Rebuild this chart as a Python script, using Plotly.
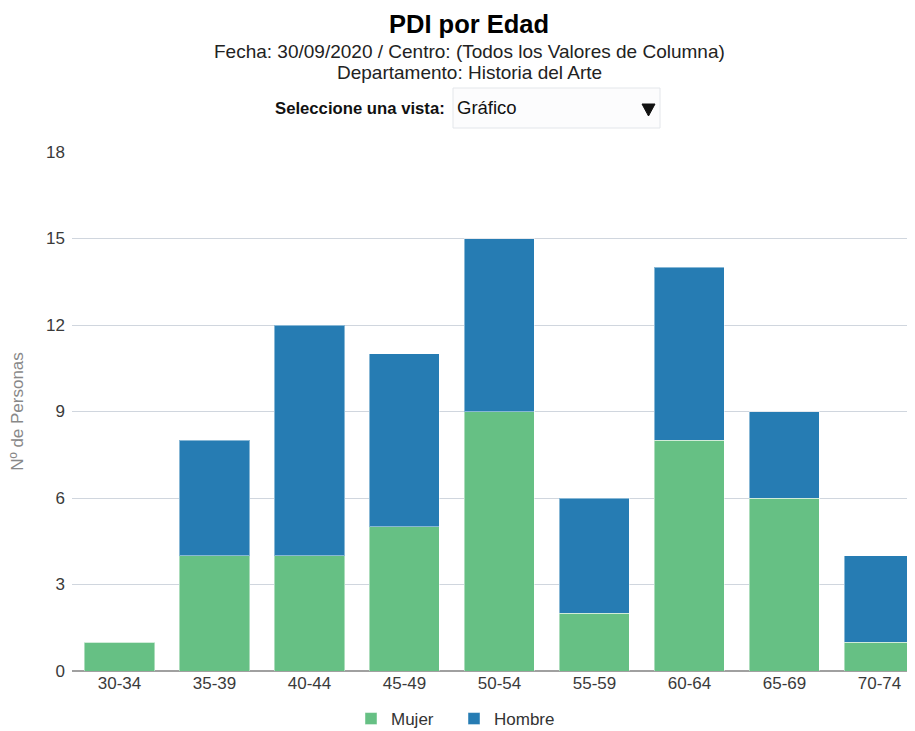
import plotly.graph_objects as go

categories = ["30-34", "35-39", "40-44", "45-49", "50-54", "55-59", "60-64", "65-69", "70-74"]
mujer = [1, 4, 4, 5, 9, 2, 8, 6, 1]
hombre = [0, 4, 8, 6, 6, 4, 6, 3, 3]
y_ticks = [0, 3, 6, 9, 12, 15, 18]

GREEN = "#66c084"
BLUE = "#267cb3"
FONT = "Liberation Sans, Arial, sans-serif"

# page has an 8px body margin; figure sized so it fits the 915x731 window
W, H = 907, 723
L, R, T, B = 64, 0, 144, 60
PH = H - T - B          # 519
PW = W - L - R          # 843
PLOT_LEFT, PLOT_BOTTOM = 72, 671   # page coords


def py(page_y):
    return (PLOT_BOTTOM - page_y) / PH


def px(page_x):
    return (page_x - PLOT_LEFT) / PW


edge = dict(color="rgba(255,255,255,0.45)", width=1)
fig = go.Figure()
fig.add_trace(go.Bar(x=categories, y=mujer, name="Mujer", marker=dict(color=GREEN, line=edge)))
fig.add_trace(go.Bar(x=categories, y=hombre, name="Hombre", marker=dict(color=BLUE, line=edge)))

fig.update_layout(
    barmode="stack",
    bargap=0.263,
    width=W, height=H,
    margin=dict(l=L, r=R, t=T, b=B, pad=0),
    paper_bgcolor="white", plot_bgcolor="white",
    font=dict(family=FONT, color="#333333"),
    showlegend=True,
    legend=dict(orientation="h", xref="paper", x=px(351), xanchor="left",
                yref="container", y=1 - (719 - 8) / H, yanchor="middle",
                font=dict(size=17, color="#333333"), traceorder="normal",
                entrywidthmode="pixels", entrywidth=58, itemwidth=30,
                bgcolor="rgba(0,0,0,0)"),
    xaxis=dict(range=[-0.5, 8.374], showgrid=False, showline=False, ticks="",
               tickfont=dict(size=17, color="#3a3a3a"), fixedrange=True),
    yaxis=dict(range=[0, 18], tickvals=y_ticks, showgrid=True, gridcolor="#d0d6de", gridwidth=1,
               zeroline=True, zerolinecolor="#a0a0a0", zerolinewidth=2,
               tickfont=dict(size=17, color="#3a3a3a"), ticklabelstandoff=6,
               title=dict(text="Nº de Personas", font=dict(size=17, color="#888888"), standoff=20)),
)

annos = [
    dict(text="<b>PDI por Edad</b>", x=px(469), y=py(24),
         font=dict(size=25.5, color="#000000", family=FONT), xanchor="center"),
    dict(text="Fecha: 30/09/2020 / Centro: (Todos los Valores de Columna)", x=px(469.5), y=py(51),
         font=dict(size=19, color="#222222", family=FONT), xanchor="center"),
    dict(text="Departamento: Historia del Arte", x=px(469.5), y=py(73),
         font=dict(size=19, color="#222222", family=FONT), xanchor="center"),
    dict(text="<b>Seleccione una vista:</b>", x=px(447), y=py(109),
         font=dict(size=16.7, color="#111111", family=FONT), xanchor="right"),
    dict(text="Gráfico", x=px(455), y=py(108),
         font=dict(size=18.5, color="#111111", family=FONT), xanchor="left"),
]
for a in annos:
    a.update(xref="paper", yref="paper", showarrow=False, yanchor="middle")
fig.update_layout(annotations=annos)

fig.add_shape(type="rect", xref="paper", yref="paper", x0=px(453), x1=px(660), y0=py(128), y1=py(88),
              line=dict(color="#e3e6ea", width=1), fillcolor="#fcfcfd", layer="below")
tri = f"M {px(642)} {py(104)} L {px(655)} {py(104)} L {px(648.5)} {py(116)} Z"
fig.add_shape(type="path", xref="paper", yref="paper", path=tri,
              line=dict(color="#111111", width=1), fillcolor="#111111", layer="above")

fig.write_html("out.html")
